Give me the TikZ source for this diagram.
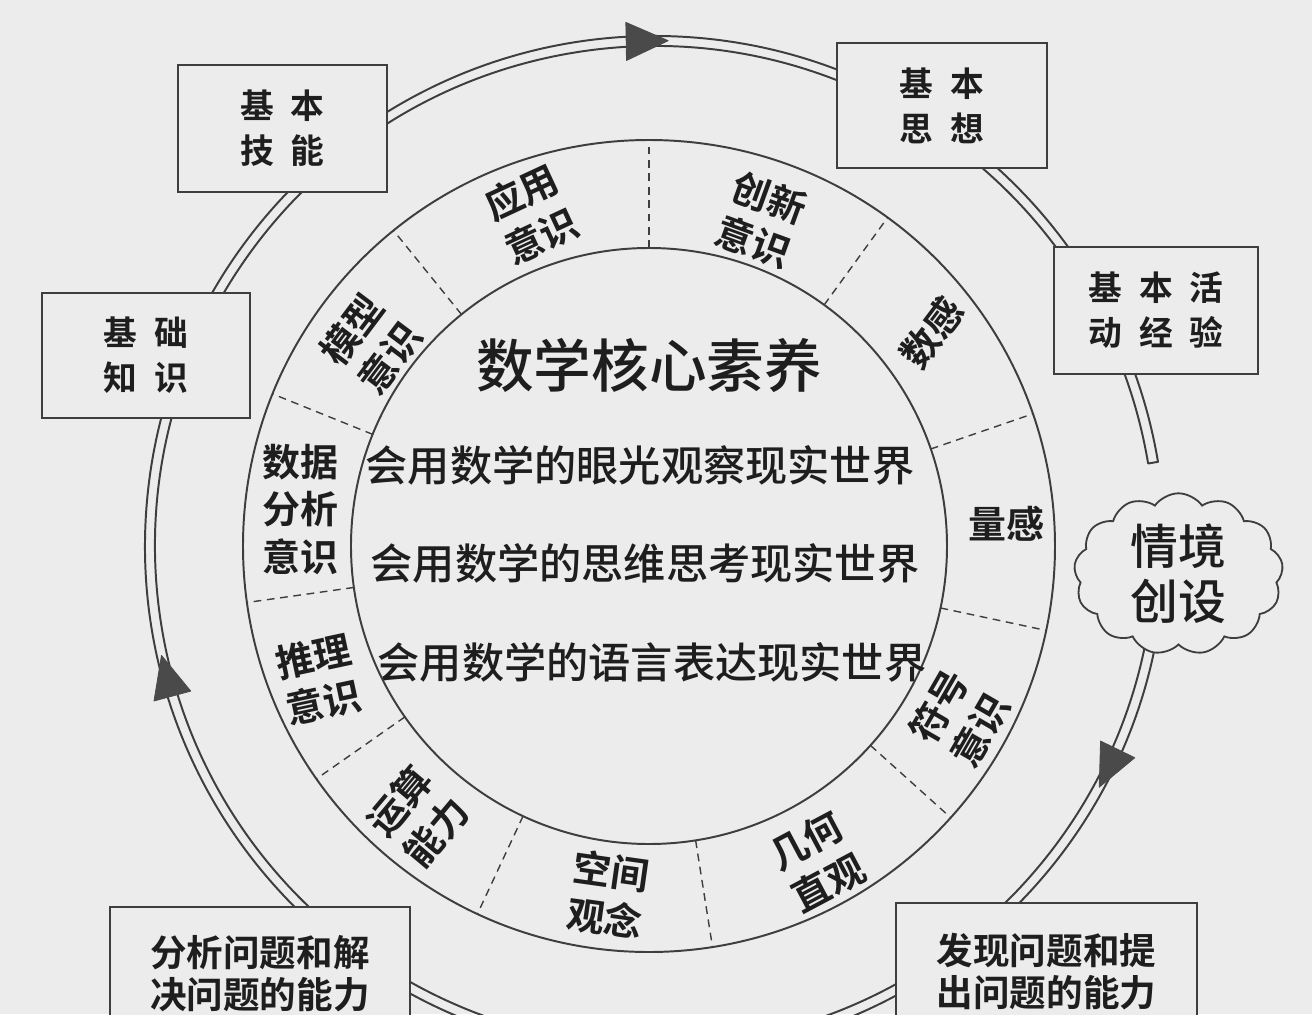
\documentclass[tikz,border=0pt]{standalone}
\usepackage{fontspec}
\setmainfont{Noto Sans CJK SC}[BoldFont={* Bold}]
\newfontfamily\hxmid{Noto Sans CJK SC Medium}
\usetikzlibrary{shapes.symbols}
\usepackage{xcolor}
\definecolor{hxbg}{HTML}{ECECEC}
\definecolor{hxline}{HTML}{3E3E3E}
\definecolor{hxtext}{HTML}{1E1E1E}
\definecolor{hxarrow}{HTML}{4A4A4A}

\begin{document}
\begin{tikzpicture}[x=0.025cm, y=0.025cm,
    ring/.style={draw=hxline, line width=1.4pt},
    divider/.style={draw=hxline, line width=1pt, dash pattern=on 5.5pt off 4pt},
    track/.style={draw=hxline, line width=1.4pt, line join=round},
    tip/.style={fill=hxarrow, draw=hxarrow, line width=0.6pt, line join=round},
    box/.style={draw=hxline, fill=hxbg, line width=1.4pt, text=hxtext, align=center,
                font=\fontsize{24}{32}\selectfont\bfseries},
    widebox/.style={box, font=\fontsize{26}{30}\selectfont\bfseries},
    seg/.style={text=hxtext, align=center, inner sep=0pt,
                font=\fontsize{27}{34}\selectfont\bfseries},
    motto/.style={text=hxtext, font=\fontsize{30}{34}\selectfont\hxmid},
  ]
  \useasboundingbox (-649,-468) rectangle (663,546);
  \fill[hxbg] (-649,-468) rectangle (663,546);

  % core ring
  \draw[ring] (0,0) circle[radius=298];
  \draw[ring] (0,0) circle[radius=406];
  \foreach \a in {90,54,19,-12,-42,-81,-115,-145,-172,158,129}
    \draw[divider] (\a:298) -- (\a:406);

  \node[seg, rotate=25] (yingyong) at (109.5:352) {应用\\意识};
  \node[seg, rotate=-20] (chuangxin) at (71:345) {创新\\意识};
  \node[seg, rotate=53] (shugan) at (37:354) {数感};
  \node[seg] (lianggan) at (3.6:358) {量感};
  \node[seg, rotate=60] (fuhao) at (-29:355) {符号\\意识};
  \node[seg, rotate=28] (jihe) at (-62:358) {几何\\直观};
  \node[seg, rotate=-8] (kongjian) at (-96.7:351) {空间\\观念};
  \node[seg, rotate=50] (yunsuan) at (-130.5:356) {运算\\能力};
  \node[seg, rotate=12] (tuili) at (-158:356) {推理\\意识};
  \node[seg] (shuju) at (174:350) {数据\\分析\\意识};
  \node[seg, rotate=53] (moxing) at (144:344) {模型\\意识};

  \node[text=hxtext, font=\fontsize{41}{41}\selectfont\hxmid] (title) at (0,181) {数学核心素养};
  \node[motto] (eye) at (-9,81) {会用数学的眼光观察现实世界};
  \node[motto] (mind) at (-4,-17) {会用数学的思维思考现实世界};
  \node[motto] (lang) at (3,-116) {会用数学的语言表达现实世界};

  % outer double track with arrows
  \begin{scope}[shift={(6,0)}]
    \draw[track] (9.5:500) arc[start angle=9.5, end angle=355, radius=500]
      -- (355:510) arc[start angle=355, end angle=9.5, radius=510] -- cycle;
    \foreach \a in {91,195,-26}
      \filldraw[tip, shift={(\a:505)}, rotate=\a-90] (22,0) -- (-20,19) -- (-20,-19) -- cycle;
  \end{scope}

  % boxes on the track
  \node[box, minimum width=5.22cm, minimum height=3.17cm] (jineng) at (-366.5,417.5) {基\enspace 本\\技\enspace 能};
  \node[box, minimum width=5.2cm, minimum height=3.12cm] (zhishi) at (-503,190.5) {基\enspace 础\\知\enspace 识};
  \node[box, minimum width=5.25cm, minimum height=3.12cm] (sixiang) at (293,440.5) {基\enspace 本\\思\enspace 想};
  \node[box, minimum width=5.1cm, minimum height=3.17cm] (jingyan) at (507,235.5) {基\enspace 本\enspace 活\\动\enspace 经\enspace 验};
  \node[widebox, minimum width=7.5cm, minimum height=3.32cm] (jiejue) at (-389,-427.5) {分析问题和解\\决问题的能力};
  \node[widebox, minimum width=7.52cm, minimum height=3.42cm] (tichu) at (397.5,-425.5) {发现问题和提\\出问题的能力};

  \node[cloud, cloud puffs=13, cloud puff arc=110, aspect=1.4, draw=hxline, fill=hxbg,
        line width=1.3pt, minimum width=5.1cm, minimum height=3.6cm, inner sep=0pt,
        text=hxtext, align=center, font=\fontsize{34}{39}\selectfont\hxmid] (qingjing) at (529.5,-28) {情境\\创设};
\end{tikzpicture}
\end{document}
